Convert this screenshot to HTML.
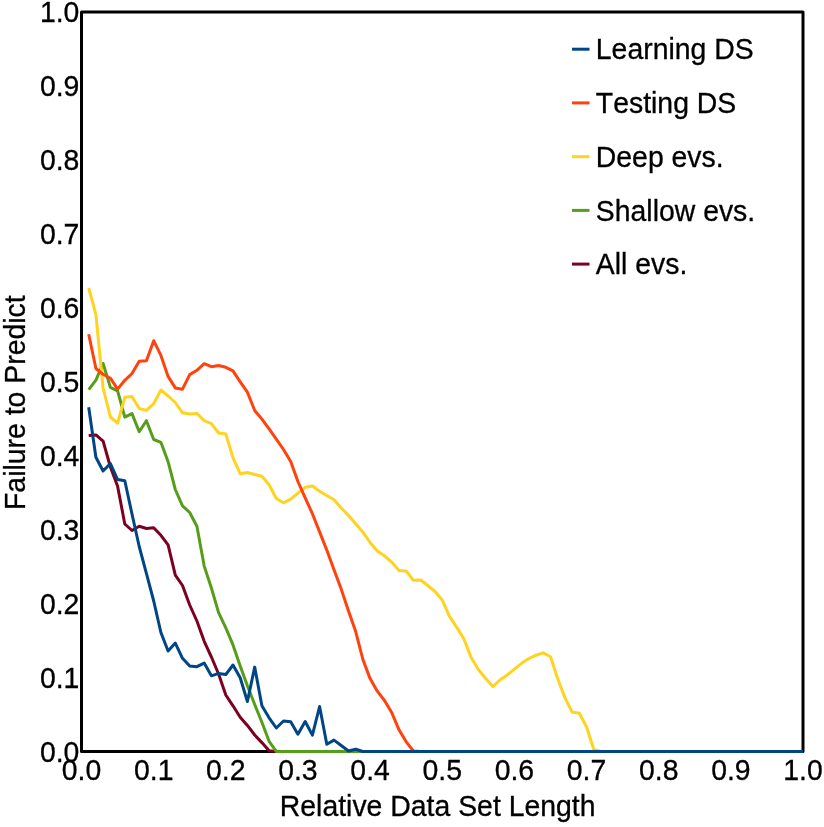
<!DOCTYPE html>
<html><head><meta charset="utf-8"><title>Failure to Predict</title>
<style>
html,body{margin:0;padding:0;background:#fff;}
svg{display:block;}
text{font-family:"Liberation Sans",Arial,sans-serif;font-size:28.4px;fill:#000;font-kerning:none;stroke:#000;stroke-width:0.3px;}
</style></head>
<body>
<svg width="824" height="827" viewBox="0 0 824 827">
<rect x="0" y="0" width="824" height="827" fill="#fff"/>
<rect x="81.5" y="12.1" width="721.5" height="739.4" fill="none" stroke="#000" stroke-width="3" stroke-linejoin="round"/>
<polyline fill="none" stroke="#7e0021" stroke-width="3" stroke-linejoin="round" points="88.7,435.5 95.9,434.9 103.1,441.2 110.4,467.0 117.6,486.2 124.8,524.0 132.0,530.5 139.2,526.3 146.4,528.5 153.7,527.7 160.9,535.3 168.1,544.9 175.3,575.2 182.5,585.5 189.7,605.0 196.9,621.0 204.2,641.3 211.4,657.0 218.6,674.0 225.8,695.0 233.0,705.8 240.2,717.2 247.4,725.4 254.7,735.0 261.9,742.6 269.1,750.8 276.3,751.5 283.5,751.5 290.7,751.5 297.9,751.5 305.2,751.5 312.4,751.5 319.6,751.5 326.8,751.5 334.0,751.5 341.2,751.5 348.5,751.5 355.7,751.5 362.9,751.5 370.1,751.5 377.3,751.5 384.5,751.5 391.7,751.5 399.0,751.5 406.2,751.5 413.4,751.5 420.6,751.5 427.8,751.5 435.0,751.5 442.2,751.5 449.5,751.5 456.7,751.5 463.9,751.5 471.1,751.5 478.3,751.5 485.5,751.5 492.8,751.5 500.0,751.5 507.2,751.5 514.4,751.5 521.6,751.5 528.8,751.5 536.0,751.5 543.3,751.5 550.5,751.5 557.7,751.5 564.9,751.5 572.1,751.5 579.3,751.5 586.5,751.5 593.8,751.5 601.0,751.5 608.2,751.5 615.4,751.5 622.6,751.5 629.8,751.5 637.1,751.5 644.3,751.5 651.5,751.5 658.7,751.5 665.9,751.5 673.1,751.5 680.3,751.5 687.6,751.5 694.8,751.5 702.0,751.5 709.2,751.5 716.4,751.5 723.6,751.5 730.9,751.5 738.1,751.5 745.3,751.5 752.5,751.5 759.7,751.5 766.9,751.5 774.1,751.5 781.4,751.5 788.6,751.5 795.8,751.5 803.0,751.5"/>
<polyline fill="none" stroke="#579d1c" stroke-width="3" stroke-linejoin="round" points="88.7,389.6 95.9,380.2 103.1,363.5 110.4,387.4 117.6,390.8 124.8,417.1 132.0,413.6 139.2,431.8 146.4,420.7 153.7,439.5 160.9,442.3 168.1,461.7 175.3,489.5 182.5,505.8 189.7,512.5 196.9,526.3 204.2,566.1 211.4,588.0 218.6,612.7 225.8,627.9 233.0,644.9 240.2,666.0 247.4,685.8 254.7,704.5 261.9,722.3 269.1,741.3 276.3,751.4 283.5,751.5 290.7,751.5 297.9,751.5 305.2,751.5 312.4,751.5 319.6,751.5 326.8,751.5 334.0,751.5 341.2,751.5 348.5,751.5 355.7,751.5 362.9,751.5 370.1,751.5 377.3,751.5 384.5,751.5 391.7,751.5 399.0,751.5 406.2,751.5 413.4,751.5 420.6,751.5 427.8,751.5 435.0,751.5 442.2,751.5 449.5,751.5 456.7,751.5 463.9,751.5 471.1,751.5 478.3,751.5 485.5,751.5 492.8,751.5 500.0,751.5 507.2,751.5 514.4,751.5 521.6,751.5 528.8,751.5 536.0,751.5 543.3,751.5 550.5,751.5 557.7,751.5 564.9,751.5 572.1,751.5 579.3,751.5 586.5,751.5 593.8,751.5 601.0,751.5 608.2,751.5 615.4,751.5 622.6,751.5 629.8,751.5 637.1,751.5 644.3,751.5 651.5,751.5 658.7,751.5 665.9,751.5 673.1,751.5 680.3,751.5 687.6,751.5 694.8,751.5 702.0,751.5 709.2,751.5 716.4,751.5 723.6,751.5 730.9,751.5 738.1,751.5 745.3,751.5 752.5,751.5 759.7,751.5 766.9,751.5 774.1,751.5 781.4,751.5 788.6,751.5 795.8,751.5 803.0,751.5"/>
<polyline fill="none" stroke="#ffd320" stroke-width="3" stroke-linejoin="round" points="88.7,288.0 95.9,314.6 103.1,388.0 110.4,417.0 117.6,423.2 124.8,397.3 132.0,396.6 139.2,408.5 146.4,410.4 153.7,403.7 160.9,390.0 168.1,396.0 175.3,402.5 182.5,412.8 189.7,414.0 196.9,413.4 204.2,420.7 211.4,423.7 218.6,433.0 225.8,434.0 233.0,457.9 240.2,473.7 247.4,472.5 254.7,474.5 261.9,476.2 269.1,484.7 276.3,498.5 283.5,502.8 290.7,499.1 297.9,493.1 305.2,487.3 312.4,486.0 319.6,491.2 326.8,495.5 334.0,499.7 341.2,508.0 348.5,515.5 355.7,523.7 362.9,532.2 370.1,542.5 377.3,551.0 384.5,555.8 391.7,562.0 399.0,570.4 406.2,571.0 413.4,580.3 420.6,580.0 427.8,585.5 435.0,591.5 442.2,600.0 449.5,616.4 456.7,627.3 463.9,638.9 471.1,657.5 478.3,669.5 485.5,678.3 492.8,686.6 500.0,680.0 507.2,675.0 514.4,669.2 521.6,663.3 528.8,658.6 536.0,655.2 543.3,652.8 550.5,656.7 557.7,678.7 564.9,697.6 572.1,712.1 579.3,713.3 586.5,726.7 593.8,749.5 601.0,751.5 608.2,751.5 615.4,751.5 622.6,751.5 629.8,751.5 637.1,751.5 644.3,751.5 651.5,751.5 658.7,751.5 665.9,751.5 673.1,751.5 680.3,751.5 687.6,751.5 694.8,751.5 702.0,751.5 709.2,751.5 716.4,751.5 723.6,751.5 730.9,751.5 738.1,751.5 745.3,751.5 752.5,751.5 759.7,751.5 766.9,751.5 774.1,751.5 781.4,751.5 788.6,751.5 795.8,751.5 803.0,751.5"/>
<polyline fill="none" stroke="#ff420e" stroke-width="3" stroke-linejoin="round" points="88.7,334.3 95.9,368.5 103.1,374.3 110.4,378.2 117.6,389.1 124.8,380.3 132.0,373.5 139.2,361.2 146.4,360.7 153.7,340.7 160.9,355.4 168.1,376.4 175.3,387.9 182.5,389.2 189.7,374.6 196.9,370.3 204.2,363.7 211.4,366.7 218.6,365.5 225.8,367.3 233.0,370.9 240.2,381.9 247.4,392.2 254.7,410.5 261.9,419.1 269.1,428.8 276.3,439.2 283.5,449.5 290.7,461.6 297.9,481.5 305.2,497.9 312.4,513.7 319.6,531.9 326.8,550.1 334.0,569.8 341.2,589.1 348.5,611.0 355.7,631.6 362.9,659.5 370.1,678.6 377.3,691.2 384.5,700.5 391.7,712.5 399.0,729.8 406.2,741.8 413.4,751.0 420.6,751.5 427.8,751.5 435.0,751.5 442.2,751.5 449.5,751.5 456.7,751.5 463.9,751.5 471.1,751.5 478.3,751.5 485.5,751.5 492.8,751.5 500.0,751.5 507.2,751.5 514.4,751.5 521.6,751.5 528.8,751.5 536.0,751.5 543.3,751.5 550.5,751.5 557.7,751.5 564.9,751.5 572.1,751.5 579.3,751.5 586.5,751.5 593.8,751.5 601.0,751.5 608.2,751.5 615.4,751.5 622.6,751.5 629.8,751.5 637.1,751.5 644.3,751.5 651.5,751.5 658.7,751.5 665.9,751.5 673.1,751.5 680.3,751.5 687.6,751.5 694.8,751.5 702.0,751.5 709.2,751.5 716.4,751.5 723.6,751.5 730.9,751.5 738.1,751.5 745.3,751.5 752.5,751.5 759.7,751.5 766.9,751.5 774.1,751.5 781.4,751.5 788.6,751.5 795.8,751.5 803.0,751.5"/>
<polyline fill="none" stroke="#004586" stroke-width="3" stroke-linejoin="round" points="88.7,407.3 95.9,457.2 103.1,471.0 110.4,463.5 117.6,479.5 124.8,480.7 132.0,514.0 139.2,546.5 146.4,573.4 153.7,601.0 160.9,632.5 168.1,651.0 175.3,643.1 182.5,658.3 189.7,666.1 196.9,666.7 204.2,663.1 211.4,675.8 218.6,673.4 225.8,674.5 233.0,665.0 240.2,677.8 247.4,701.5 254.7,667.1 261.9,705.8 269.1,717.8 276.3,728.0 283.5,721.0 290.7,721.7 297.9,734.2 305.2,721.5 312.4,735.1 319.6,706.5 326.8,744.3 334.0,740.1 341.2,745.5 348.5,751.0 355.7,749.2 362.9,751.5 370.1,751.5 377.3,751.5 384.5,751.5 391.7,751.5 399.0,751.5 406.2,751.5 413.4,751.5 420.6,751.5 427.8,751.5 435.0,751.5 442.2,751.5 449.5,751.5 456.7,751.5 463.9,751.5 471.1,751.5 478.3,751.5 485.5,751.5 492.8,751.5 500.0,751.5 507.2,751.5 514.4,751.5 521.6,751.5 528.8,751.5 536.0,751.5 543.3,751.5 550.5,751.5 557.7,751.5 564.9,751.5 572.1,751.5 579.3,751.5 586.5,751.5 593.8,751.5 601.0,751.5 608.2,751.5 615.4,751.5 622.6,751.5 629.8,751.5 637.1,751.5 644.3,751.5 651.5,751.5 658.7,751.5 665.9,751.5 673.1,751.5 680.3,751.5 687.6,751.5 694.8,751.5 702.0,751.5 709.2,751.5 716.4,751.5 723.6,751.5 730.9,751.5 738.1,751.5 745.3,751.5 752.5,751.5 759.7,751.5 766.9,751.5 774.1,751.5 781.4,751.5 788.6,751.5 795.8,751.5 803.0,751.5"/>
<text transform="translate(79.4,761.5) scale(1,1.06)" text-anchor="end">0.0</text>
<text transform="translate(79.4,687.6) scale(1,1.06)" text-anchor="end">0.1</text>
<text transform="translate(79.4,613.6) scale(1,1.06)" text-anchor="end">0.2</text>
<text transform="translate(79.4,539.7) scale(1,1.06)" text-anchor="end">0.3</text>
<text transform="translate(79.4,465.7) scale(1,1.06)" text-anchor="end">0.4</text>
<text transform="translate(79.4,391.8) scale(1,1.06)" text-anchor="end">0.5</text>
<text transform="translate(79.4,317.9) scale(1,1.06)" text-anchor="end">0.6</text>
<text transform="translate(79.4,243.9) scale(1,1.06)" text-anchor="end">0.7</text>
<text transform="translate(79.4,170.0) scale(1,1.06)" text-anchor="end">0.8</text>
<text transform="translate(79.4,96.0) scale(1,1.06)" text-anchor="end">0.9</text>
<text transform="translate(79.4,22.1) scale(1,1.06)" text-anchor="end">1.0</text>
<text transform="translate(81.5,779.5) scale(1,1.06)" text-anchor="middle">0.0</text>
<text transform="translate(153.7,779.5) scale(1,1.06)" text-anchor="middle">0.1</text>
<text transform="translate(225.8,779.5) scale(1,1.06)" text-anchor="middle">0.2</text>
<text transform="translate(297.9,779.5) scale(1,1.06)" text-anchor="middle">0.3</text>
<text transform="translate(370.1,779.5) scale(1,1.06)" text-anchor="middle">0.4</text>
<text transform="translate(442.2,779.5) scale(1,1.06)" text-anchor="middle">0.5</text>
<text transform="translate(514.4,779.5) scale(1,1.06)" text-anchor="middle">0.6</text>
<text transform="translate(586.5,779.5) scale(1,1.06)" text-anchor="middle">0.7</text>
<text transform="translate(658.7,779.5) scale(1,1.06)" text-anchor="middle">0.8</text>
<text transform="translate(730.9,779.5) scale(1,1.06)" text-anchor="middle">0.9</text>
<text transform="translate(803.0,779.5) scale(1,1.06)" text-anchor="middle">1.0</text>
<line x1="572" y1="49.2" x2="589.5" y2="49.2" stroke="#004586" stroke-width="3"/>
<text transform="translate(595.8,59.4) scale(1,1.015)">Learning DS</text>
<line x1="572" y1="102.9" x2="589.5" y2="102.9" stroke="#ff420e" stroke-width="3"/>
<text transform="translate(595.8,113.1) scale(1,1.015)">Testing DS</text>
<line x1="572" y1="156.7" x2="589.5" y2="156.7" stroke="#ffd320" stroke-width="3"/>
<text transform="translate(595.8,166.9) scale(1,1.015)">Deep evs.</text>
<line x1="572" y1="210.4" x2="589.5" y2="210.4" stroke="#579d1c" stroke-width="3"/>
<text transform="translate(595.8,220.6) scale(1,1.015)">Shallow evs.</text>
<line x1="572" y1="264.1" x2="589.5" y2="264.1" stroke="#7e0021" stroke-width="3"/>
<text transform="translate(595.8,274.3) scale(1,1.015)">All evs.</text>
<text transform="translate(279.8,816.0) scale(1,1.015)">Relative Data Set Length</text>
<text transform="translate(25.3,510.0) rotate(-90) scale(1,1.015)">Failure to Predict</text>
</svg>
</body></html>
